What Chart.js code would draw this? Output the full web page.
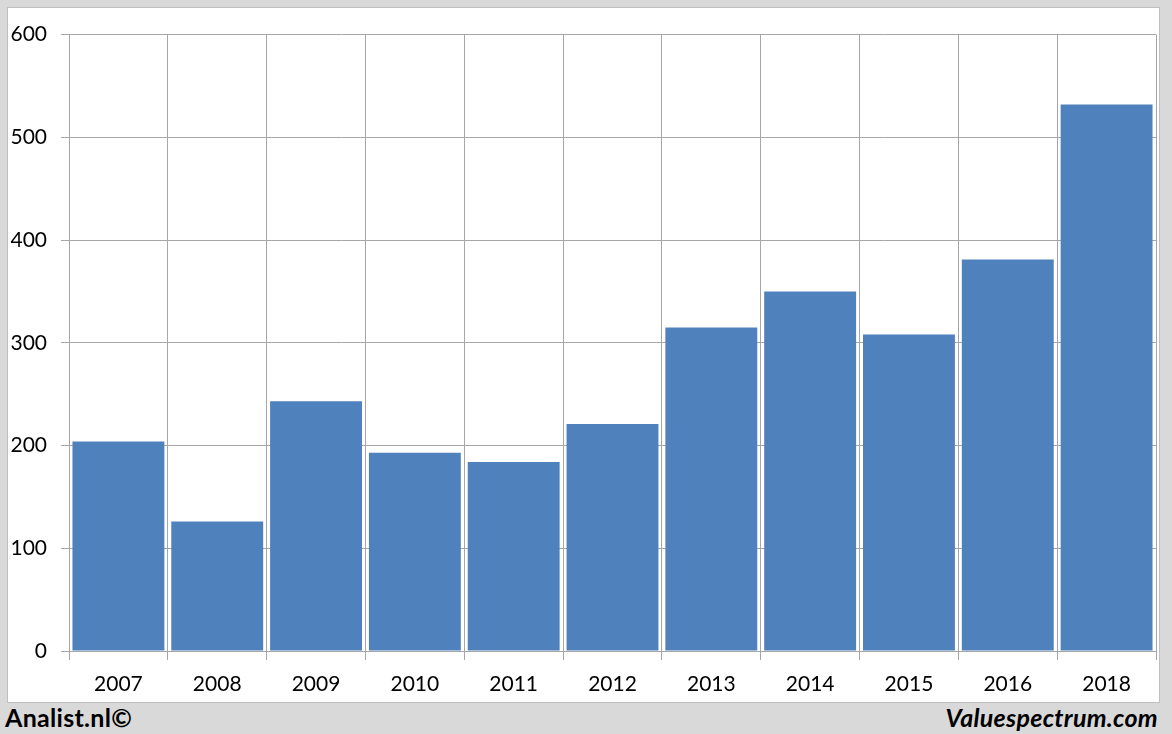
<!DOCTYPE html>
<html>
<head>
<meta charset="utf-8">
<script src="https://cdn.jsdelivr.net/npm/chart.js@4.4.0/dist/chart.umd.min.js"></script>
<style>
  html, body { margin: 0; padding: 0; }
  body { width: 1172px; height: 734px; background: #d9d9d9; position: relative; overflow: hidden; font-family: Lato, "Open Sans", sans-serif; }
  #panel { position: absolute; left: 7px; top: 7px; width: 1151px; height: 694px; background: #fff; border: 1px solid #bfbfbf; }
  #panel canvas { display: block; }
  .foot { position: absolute; top: 702px; font-size: 25px; font-weight: bold; color: #000; letter-spacing: 0.3px; }
  #left { left: 5px; }
  #right { right: 14px; font-style: italic; }
</style>
</head>
<body>
<div id="panel"><canvas id="chart" width="1151" height="694"></canvas></div>
<div class="foot" id="left">Analist.nl©</div>
<div class="foot" id="right">Valuespectrum.com</div>
<script>
const years = ["2007", "2008", "2009", "2010", "2011", "2012", "2013", "2014", "2015", "2016", "2018"];
const values = [204, 126, 243, 193, 184, 221, 315, 350, 308, 381, 532];
const yTicks = [0, 100, 200, 300, 400, 500, 600];

const gridColor = "#a6a6a6";

const ctx = document.getElementById("chart").getContext("2d");
new Chart(ctx, {
  type: "bar",
  data: {
    labels: years,
    datasets: [{
      data: values,
      backgroundColor: "#4f81bd",
      borderWidth: 0,
      barPercentage: 0.93,
      categoryPercentage: 1.0
    }]
  },
  options: {
    responsive: false,
    animation: false,
    layout: { padding: { top: 26, right: 3, bottom: 0, left: 0 } },
    plugins: { legend: { display: false }, tooltip: { enabled: false } },
    scales: {
      x: {
        grid: { color: gridColor, lineWidth: 1, tickLength: 9, offset: true },
        border: { color: gridColor },
        ticks: { color: "#000", font: { family: "Lato", size: 21 }, padding: 12, maxRotation: 0 },
        afterFit: (s) => { s.height = 51; }
      },
      y: {
        min: 0,
        max: 600,
        afterBuildTicks: (s) => { s.ticks = yTicks.map(v => ({ value: v })); },
        grid: { color: gridColor, lineWidth: 1, tickLength: 8 },
        border: { color: gridColor },
        ticks: { color: "#000", font: { family: "Lato", size: 21 }, padding: 14 },
        afterFit: (s) => { s.width = 61; }
      }
    }
  }
});
</script>
</body>
</html>
